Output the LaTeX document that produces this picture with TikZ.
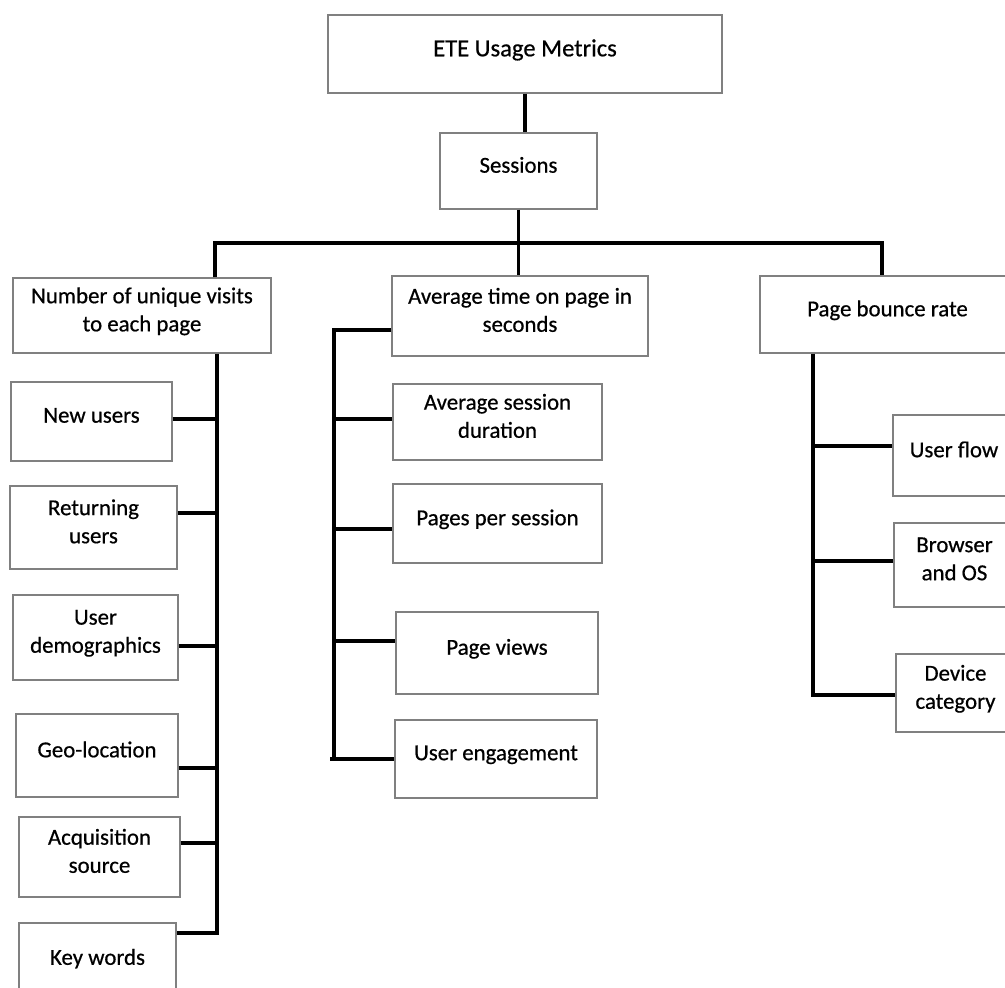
\documentclass[tikz,border=0pt]{standalone}
\usepackage{fontspec}
\setmainfont{Carlito}
\newfontfamily\boxfont{Carlito}[FakeBold=0.6]
\usepackage{tikz}

\begin{document}
\begin{tikzpicture}[x=0.02cm, y=-0.02cm]
% Define common styles
\tikzset{
    box/.style={draw=black!50, line width=0.8pt, align=center, inner sep=3pt,
        text depth=7pt, font=\boxfont\fontsize{13}{16}\selectfont},
    link/.style={line width=1.8pt, black},
    wh/.style 2 args={minimum width=#1*0.02cm, minimum height=#2*0.02cm}
}
\useasboundingbox (0,0) rectangle (1005,988);

% Top of the tree
\node[box, wh={394}{78}, font=\boxfont\fontsize{14}{17}\selectfont] (metrics) at (525,54) {ETE Usage Metrics};
\node[box, wh={157}{76}] (sessions) at (518.5,171) {Sessions};

% Second level
\node[box, wh={258}{75}] (visits) at (142,315.5) {Number of unique visits\\to each page};
\node[box, wh={256}{80}] (avgtime) at (520,316) {Average time on page in\\seconds};
\node[box, wh={255}{77}] (bounce) at (887.5,314.5) {Page bounce rate};

% Left column
\node[box, wh={161}{79}] (newusers) at (91.5,421.5) {New users};
\node[box, wh={167}{83}] (returning) at (93.5,527.5) {Returning\\users};
\node[box, wh={165}{85}] (demo) at (95.5,637.5) {User\\demographics};
\node[box, wh={162}{83}] (geo) at (97,755.5) {Geo-location};
\node[box, wh={161}{80}] (acq) at (99.5,857) {Acquisition\\source};
\node[box, wh={157}{80}] (keywords) at (97.5,963) {Key words};

% Middle column
\node[box, wh={209}{76}] (sessdur) at (497.5,422) {Average session\\duration};
\node[box, wh={209}{79}] (pps) at (497.5,523.5) {Pages per session};
\node[box, wh={202}{82}] (pageviews) at (497,653) {Page views};
\node[box, wh={202}{78}] (engage) at (496,759) {User engagement};

% Right column
\node[box, wh={122}{81}] (userflow) at (954,455.5) {User flow};
\node[box, wh={121}{84}] (browser) at (954.5,565) {Browser\\and OS};
\node[box, wh={119}{78}] (device) at (955.5,693) {Device\\category};

% Trunk and bus
\coordinate (busL) at (215,243);
\coordinate (busR) at (882,243);
\draw[link] (metrics.south) -- (metrics.south |- sessions.north);
\draw[link] (sessions.south) -- (sessions.south |- avgtime.north);
\draw[link] (visits.north -| busL) -- (busL) -- (busR) -- (bounce.north -| busR);

% Left spine
\coordinate (endA) at (217,933);
\draw[link] (visits.south -| endA) -- (endA) -- (keywords.east |- endA);
\foreach \n/\y in {newusers/419, returning/513, demo/646, geo/768, acq/843}
    \draw[link] (\n.east |- 0,\y) -- (217,\y);

% Middle spine
\coordinate (topB) at (334,330);
\coordinate (endB) at (334,759);
\draw[link] (avgtime.west |- topB) -- (topB) -- (endB);
\foreach \n/\y in {sessdur/419, pps/529, pageviews/641}
    \draw[link] (334,\y) -- (\n.west |- 0,\y);
\draw[link] (330,759) -- (engage.west |- endB);

% Right spine
\coordinate (endC) at (813,695);
\draw[link] (bounce.south -| endC) -- (endC) -- (device.west |- endC);
\foreach \n/\y in {userflow/446, browser/561}
    \draw[link] (813,\y) -- (\n.west |- 0,\y);

\end{tikzpicture}
\end{document}
